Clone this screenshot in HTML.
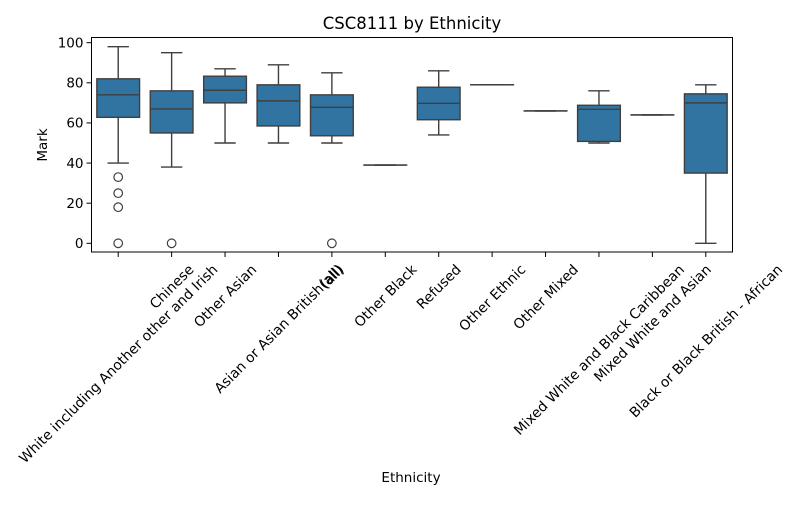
<!DOCTYPE html>
<html><head><meta charset="utf-8"><style>
body{margin:0;background:#fff}
svg text{font-family:"DejaVu Sans","Liberation Sans",sans-serif;fill:#000}
</style></head><body>
<svg id="chart" width="800" height="500" viewBox="0 0 800 500">
<rect width="800" height="500" fill="#fff"/>
<text x="412" y="29" font-size="16.5" text-anchor="middle">CSC8111 by Ethnicity</text>
<g id="plot"></g>
<text x="411" y="482" font-size="13.5" text-anchor="middle">Ethnicity</text>
<text transform="translate(47,145) rotate(-90)" font-size="13.5" text-anchor="middle">Mark</text>
</svg>
<script>
const categories=["White including Another other and Irish","Chinese","Other Asian","Asian or Asian British(all)","(all)","Other Black","Refused","Other Ethnic","Other Mixed","Mixed White and Black Caribbean","Mixed White and Asian","Black or Black British - African"];
const whiskerLow=[40,38,50,50,50,39,54,79,66,50,64,0];
const q1=[62.8,55,70,58.5,53.6,39,61.6,79,66,50.8,64,35];
const medians=[74,67,76.3,71,67.8,39,69.8,79,66,66.8,64,70];
const q3=[82,76,83.3,79,74,39,77.8,79,66,68.8,64,74.5];
const whiskerHigh=[98,95,87,89,85,39,86,79,66,76,64,79];
const outliers=[[33,25,18,0],[0],[],[],[0],[],[],[],[],[],[],[]];
const yTicks=[0,20,40,60,80,100];

const NS="http://www.w3.org/2000/svg";
const L=91.5,R=732.5,T=37.5,B=252;
const y=v=>243.3-2.006*v;
const step=(R-L)/categories.length;
const x=i=>L+step*(i+0.5);
const g=document.getElementById('plot');
function mk(tag,a,parent){const e=document.createElementNS(NS,tag);for(const k in a)e.setAttribute(k,a[k]);(parent||g).appendChild(e);return e;}
const col="#3f3f3f";
categories.forEach((c,i)=>{
  const cx=x(i),hw=step*0.4,ww=step*0.2;
  const grp=mk('g',{});
  
  
  mk('line',{x1:cx,x2:cx,y1:y(whiskerLow[i]),y2:y(q1[i]),stroke:col,'stroke-width':1.4},grp);
  mk('line',{x1:cx,x2:cx,y1:y(q3[i]),y2:y(whiskerHigh[i]),stroke:col,'stroke-width':1.4},grp);
  mk('line',{x1:cx-ww,x2:cx+ww,y1:y(whiskerLow[i]),y2:y(whiskerLow[i]),stroke:col,'stroke-width':1.4},grp);
  mk('line',{x1:cx-ww,x2:cx+ww,y1:y(whiskerHigh[i]),y2:y(whiskerHigh[i]),stroke:col,'stroke-width':1.4},grp);
  mk('rect',{x:cx-hw,y:y(q3[i]),width:2*hw,height:Math.max(0.01,y(q1[i])-y(q3[i])),fill:"#3274a1",stroke:col,'stroke-width':1.4},grp);
  mk('line',{x1:cx-hw,x2:cx+hw,y1:y(medians[i]),y2:y(medians[i]),stroke:col,'stroke-width':1.4},grp);
  outliers[i].forEach(o=>{
    const c2=mk('circle',{cx:cx,cy:y(o),r:4.3,fill:"none",stroke:col,'stroke-width':1.2},grp);
    
    
  });
  mk('line',{x1:cx,x2:cx,y1:B,y2:B+5,stroke:"#000",'stroke-width':1});
  const t=mk('text',{'font-size':13.9,'text-anchor':'middle'});
  t.textContent=c;
  
  
  const w=t.getComputedTextLength(),h=13.9;
  const bh=(w+h)*Math.SQRT1_2;
  const cy=262+bh/2;
  t.setAttribute('transform',`translate(${cx},${cy}) rotate(-45) translate(0,${h*0.35})`);
});
yTicks.forEach(v=>{
  mk('line',{x1:L-5,x2:L,y1:y(v),y2:y(v),stroke:"#000",'stroke-width':1});
  const t=mk('text',{x:L-8,y:y(v)+4.8,'font-size':13.5,'text-anchor':'end'});
  t.textContent=v;
  
  
});
const fr=mk('rect',{x:L,y:T,width:R-L,height:B-T,fill:"none",stroke:"#000",'stroke-width':1});


</script>
</body></html>
